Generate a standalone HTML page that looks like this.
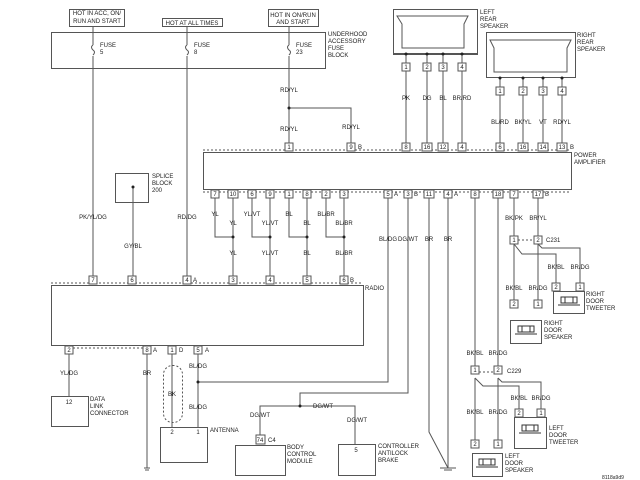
<!DOCTYPE html>
<html><head><meta charset="utf-8"><style>
html,body{margin:0;padding:0;background:#fff;}
svg{display:block;}
text{font-family:"Liberation Sans",sans-serif;font-size:6px;fill:#222;}
.c{text-anchor:middle;}
</style></head><body>
<svg width="640" height="480" viewBox="0 0 640 480" xmlns="http://www.w3.org/2000/svg">
<g stroke="#555" stroke-width="1" fill="none">
<!-- fuse block -->
<rect x="51.5" y="32.5" width="274" height="36"/>
<rect x="69.5" y="9.5" width="55" height="17"/>
<rect x="162.5" y="18.5" width="60" height="8"/>
<rect x="268.5" y="9.5" width="50" height="17"/>
<path d="M93 26V45M93 56V276M187 26V45M187 56V276M289 26V45M289 56V143"/>
<path d="M93 45q-3 2 0 5q3 2 0 5M187 45q-3 2 0 5q3 2 0 5M289 45q-3 2 0 5q3 2 0 5"/>
<path d="M289 108H351V143"/>
<!-- power amp -->
<rect x="203.5" y="152.5" width="368" height="37"/>
<path d="M203 150H571M203 192H571" stroke-dasharray="2,2"/>
<!-- left rear speaker -->
<rect x="393.5" y="9.5" width="84" height="45"/>
<path d="M397 16H468L464 24V48H402V24Z"/>
<path d="M393 54H477" stroke-width="2"/>
<path d="M406 54V143M427 54V143M443 54V143M462 54V143"/>
<!-- right rear speaker -->
<rect x="486.5" y="32.5" width="89" height="45"/>
<path d="M490 40H571L567 48V72H494V48Z"/>
<path d="M500 78V143M523 78V143M543 78V143M562 78V143"/>
<!-- amp bottom wires -->
<path d="M215 198V237H233M233 198V276M252 198V237H270M270 198V276M289 198V237H307M307 198V276M326 198V237H344M344 198V276"/>
<!-- radio -->
<rect x="51.5" y="285.5" width="312" height="60"/>
<path d="M51 283H363M69 348H147" stroke-dasharray="2,2"/>
<rect x="115.5" y="173.5" width="33" height="29"/>
<path d="M133 187V276"/>
<path d="M69 354V396M147 354V468M172 354V427M198 354V427"/>
<rect x="51.5" y="396.5" width="37" height="30"/>
<rect x="163.5" y="365.5" width="19" height="57" rx="9" stroke-dasharray="2,2"/>
<rect x="160.5" y="427.5" width="47" height="35"/>
<path d="M198 382H388V198M408 198V393H300V406M260 435V406H355V444"/>
<rect x="235.5" y="445.5" width="50" height="30"/>
<rect x="338.5" y="444.5" width="37" height="31"/>
<path d="M429 198V432L448 468M448 198V468"/>
<path d="M144 468H150M145 470H149M440 468H456M444 470H452"/>
<!-- right door -->
<path d="M514 198V236M538 198V236M514 244V300M538 244V300M514 244L522 254H556V283M538 244L542 248H580V283"/>
<path d="M514 240H538M475 372H498" stroke-dasharray="2,2"/>
<rect x="553.5" y="291.5" width="31" height="22"/>
<rect x="510.5" y="320.5" width="31" height="23"/>
<!-- left door -->
<path d="M475 198V366M498 198V366M475 378V440M498 378V440M475 378L483 386H519V415M498 378L502 382H541V415"/>
<rect x="514.5" y="417.5" width="32" height="31"/>
<rect x="472.5" y="453.5" width="30" height="23"/>
<!-- speaker icons -->
<g stroke="#333"><rect x="561" y="297" width="16" height="6"/><path d="M558 305H580M565 297V303M573 297V303"/>
<rect x="518" y="326" width="16" height="6"/><path d="M515 334H537M522 326V332M530 326V332"/>
<rect x="522" y="425" width="16" height="6"/><path d="M519 433H541M526 425V431M534 425V431"/>
<rect x="479" y="459" width="16" height="6"/><path d="M476 467H498M483 459V465M491 459V465"/></g>
</g>
<g fill="#222">
<circle cx="289" cy="108" r="1.5"/><circle cx="133" cy="187" r="1.5"/>
<circle cx="233" cy="237" r="1.5"/><circle cx="270" cy="237" r="1.5"/><circle cx="307" cy="237" r="1.5"/><circle cx="344" cy="237" r="1.5"/>
<circle cx="198" cy="382" r="1.5"/><circle cx="300" cy="406" r="1.5"/>
<circle cx="406" cy="54" r="1.5"/><circle cx="427" cy="54" r="1.5"/><circle cx="443" cy="54" r="1.5"/><circle cx="462" cy="54" r="1.5"/>
<circle cx="500" cy="78" r="1.5"/><circle cx="523" cy="78" r="1.5"/><circle cx="543" cy="78" r="1.5"/><circle cx="562" cy="78" r="1.5"/>
</g>
<!-- pin boxes -->
<g stroke="#555" fill="#fff">
<rect x="285" y="143" width="8" height="8"/><rect x="347" y="143" width="8" height="8"/>
<rect x="402" y="143" width="8" height="8"/><rect x="422" y="143" width="10" height="8"/><rect x="438" y="143" width="10" height="8"/><rect x="458" y="143" width="8" height="8"/>
<rect x="496" y="143" width="8" height="8"/><rect x="518" y="143" width="10" height="8"/><rect x="538" y="143" width="10" height="8"/><rect x="557" y="143" width="10" height="8"/>
<rect x="402" y="63" width="8" height="8"/><rect x="423" y="63" width="8" height="8"/><rect x="439" y="63" width="8" height="8"/><rect x="458" y="63" width="8" height="8"/>
<rect x="496" y="87" width="8" height="8"/><rect x="519" y="87" width="8" height="8"/><rect x="539" y="87" width="8" height="8"/><rect x="558" y="87" width="8" height="8"/>
<rect x="211" y="190" width="8" height="8"/><rect x="228" y="190" width="10" height="8"/><rect x="248" y="190" width="8" height="8"/><rect x="266" y="190" width="8" height="8"/>
<rect x="285" y="190" width="8" height="8"/><rect x="303" y="190" width="8" height="8"/><rect x="322" y="190" width="8" height="8"/><rect x="340" y="190" width="8" height="8"/>
<rect x="384" y="190" width="8" height="8"/><rect x="404" y="190" width="8" height="8"/><rect x="424" y="190" width="10" height="8"/><rect x="444" y="190" width="8" height="8"/>
<rect x="471" y="190" width="8" height="8"/><rect x="493" y="190" width="10" height="8"/><rect x="510" y="190" width="8" height="8"/><rect x="533" y="190" width="10" height="8"/>
<rect x="89" y="276" width="8" height="8"/><rect x="128" y="276" width="8" height="8"/><rect x="183" y="276" width="8" height="8"/><rect x="229" y="276" width="8" height="8"/>
<rect x="266" y="276" width="8" height="8"/><rect x="303" y="276" width="8" height="8"/><rect x="340" y="276" width="8" height="8"/>
<rect x="65" y="346" width="8" height="8"/><rect x="143" y="346" width="8" height="8"/><rect x="168" y="346" width="8" height="8"/><rect x="194" y="346" width="8" height="8"/>
<rect x="256" y="435" width="9" height="9"/>
<rect x="510" y="236" width="8" height="8"/><rect x="534" y="236" width="8" height="8"/>
<rect x="552" y="283" width="8" height="8"/><rect x="576" y="283" width="8" height="8"/>
<rect x="510" y="300" width="8" height="8"/><rect x="534" y="300" width="8" height="8"/>
<rect x="471" y="366" width="8" height="8"/><rect x="494" y="366" width="8" height="8"/>
<rect x="515" y="409" width="8" height="8"/><rect x="537" y="409" width="8" height="8"/>
<rect x="471" y="440" width="8" height="8"/><rect x="494" y="440" width="8" height="8"/>
</g>
<g class="c">
<text x="289" y="149" class="c">1</text><text x="351" y="149" class="c">9</text><text x="406" y="149" class="c">8</text><text x="427" y="149" class="c">16</text><text x="443" y="149" class="c">12</text><text x="462" y="149" class="c">4</text>
<text x="500" y="149" class="c">6</text><text x="523" y="149" class="c">16</text><text x="543" y="149" class="c">14</text><text x="562" y="149" class="c">13</text>
<text x="406" y="69" class="c">1</text><text x="427" y="69" class="c">2</text><text x="443" y="69" class="c">3</text><text x="462" y="69" class="c">4</text>
<text x="500" y="93" class="c">1</text><text x="523" y="93" class="c">2</text><text x="543" y="93" class="c">3</text><text x="562" y="93" class="c">4</text>
<text x="215" y="196" class="c">7</text><text x="233" y="196" class="c">10</text><text x="252" y="196" class="c">6</text><text x="270" y="196" class="c">9</text>
<text x="289" y="196" class="c">1</text><text x="307" y="196" class="c">8</text><text x="326" y="196" class="c">2</text><text x="344" y="196" class="c">3</text>
<text x="388" y="196" class="c">5</text><text x="408" y="196" class="c">3</text><text x="429" y="196" class="c">11</text><text x="448" y="196" class="c">4</text>
<text x="475" y="196" class="c">8</text><text x="498" y="196" class="c">18</text><text x="514" y="196" class="c">7</text><text x="538" y="196" class="c">17</text>
<text x="93" y="282" class="c">7</text><text x="132" y="282" class="c">6</text><text x="187" y="282" class="c">4</text><text x="233" y="282" class="c">3</text>
<text x="270" y="282" class="c">4</text><text x="307" y="282" class="c">5</text><text x="344" y="282" class="c">6</text>
<text x="69" y="352" class="c">2</text><text x="147" y="352" class="c">8</text><text x="172" y="352" class="c">1</text><text x="198" y="352" class="c">5</text>
<text x="260" y="442" class="c">74</text><text x="69" y="404" class="c">12</text><text x="356" y="452" class="c">5</text>
<text x="172" y="434" class="c">2</text><text x="198" y="434" class="c">1</text>
<text x="514" y="242" class="c">1</text><text x="538" y="242" class="c">2</text>
<text x="556" y="289" class="c">2</text><text x="580" y="289" class="c">1</text>
<text x="514" y="306" class="c">2</text><text x="538" y="306" class="c">1</text>
<text x="475" y="372" class="c">1</text><text x="498" y="372" class="c">2</text>
<text x="519" y="415" class="c">2</text><text x="541" y="415" class="c">1</text>
<text x="475" y="446" class="c">2</text><text x="498" y="446" class="c">1</text>
<!-- wire labels -->
<text x="289" y="92" class="c">RD/YL</text><text x="289" y="131" class="c">RD/YL</text><text x="351" y="129" class="c">RD/YL</text>
<text x="406" y="100" class="c">PK</text><text x="427" y="100" class="c">DG</text><text x="443" y="100" class="c">BL</text><text x="462" y="100" class="c">BR/RD</text>
<text x="500" y="124" class="c">BL/RD</text><text x="523" y="124" class="c">BK/YL</text><text x="543" y="124" class="c">VT</text><text x="562" y="124" class="c">RD/YL</text>
<text x="215" y="216" class="c">YL</text><text x="233" y="225" class="c">YL</text><text x="252" y="216" class="c">YL/VT</text><text x="270" y="225" class="c">YL/VT</text>
<text x="289" y="216" class="c">BL</text><text x="307" y="225" class="c">BL</text><text x="326" y="216" class="c">BL/BR</text><text x="344" y="225" class="c">BL/BR</text>
<text x="233" y="255" class="c">YL</text><text x="270" y="255" class="c">YL/VT</text><text x="307" y="255" class="c">BL</text><text x="344" y="255" class="c">BL/BR</text>
<text x="93" y="219" class="c">PK/YL/DG</text><text x="187" y="219" class="c">RD/DG</text><text x="133" y="248" class="c">GY/BL</text>
<text x="388" y="241" class="c">BL/DG</text><text x="408" y="241" class="c">DG/WT</text><text x="429" y="241" class="c">BR</text><text x="448" y="241" class="c">BR</text>
<text x="514" y="220" class="c">BK/PK</text><text x="538" y="220" class="c">BR/YL</text>
<text x="556" y="269" class="c">BK/BL</text><text x="580" y="269" class="c">BR/DG</text>
<text x="514" y="290" class="c">BK/BL</text><text x="538" y="290" class="c">BR/DG</text>
<text x="475" y="355" class="c">BK/BL</text><text x="498" y="355" class="c">BR/DG</text>
<text x="519" y="400" class="c">BK/BL</text><text x="541" y="400" class="c">BR/DG</text>
<text x="475" y="414" class="c">BK/BL</text><text x="498" y="414" class="c">BR/DG</text>
<text x="69" y="375" class="c">YL/DG</text><text x="147" y="375" class="c">BR</text><text x="172" y="396" class="c">BK</text>
<text x="198" y="368" class="c">BL/DG</text><text x="198" y="409" class="c">BL/DG</text>
<text x="260" y="417" class="c">DG/WT</text><text x="323" y="408" class="c">DG/WT</text><text x="357" y="422" class="c">DG/WT</text>
<text x="97" y="15" class="c">HOT IN ACC, ON/</text><text x="97" y="23" class="c">RUN AND START</text>
<text x="192" y="25" class="c">HOT AT ALL TIMES</text>
<text x="293" y="17" class="c">HOT IN ON/RUN</text><text x="293" y="24" class="c">AND START</text>
</g>
<g>
<text x="100" y="47">FUSE</text><text x="100" y="54">5</text>
<text x="194" y="47">FUSE</text><text x="194" y="54">8</text>
<text x="296" y="47">FUSE</text><text x="296" y="54">23</text>
<text x="328" y="36">UNDERHOOD</text><text x="328" y="43">ACCESSORY</text><text x="328" y="50">FUSE</text><text x="328" y="57">BLOCK</text>
<text x="480" y="14">LEFT</text><text x="480" y="21">REAR</text><text x="480" y="28">SPEAKER</text>
<text x="577" y="37">RIGHT</text><text x="577" y="44">REAR</text><text x="577" y="51">SPEAKER</text>
<text x="574" y="157">POWER</text><text x="574" y="164">AMPLIFIER</text>
<text x="358" y="149">B</text><text x="570" y="149">B</text>
<text x="394" y="196">A</text><text x="414" y="196">B</text><text x="454" y="196">A</text><text x="545" y="196">B</text>
<text x="193" y="282">A</text><text x="350" y="282">B</text>
<text x="153" y="352">A</text><text x="179" y="352">D</text><text x="205" y="352">A</text>
<text x="365" y="290">RADIO</text>
<text x="152" y="178">SPLICE</text><text x="152" y="185">BLOCK</text><text x="152" y="192">200</text>
<text x="90" y="401">DATA</text><text x="90" y="408">LINK</text><text x="90" y="415">CONNECTOR</text>
<text x="210" y="432">ANTENNA</text>
<text x="268" y="442">C4</text>
<text x="287" y="449">BODY</text><text x="287" y="456">CONTROL</text><text x="287" y="463">MODULE</text>
<text x="378" y="448">CONTROLLER</text><text x="378" y="455">ANTILOCK</text><text x="378" y="462">BRAKE</text>
<text x="546" y="242">C231</text><text x="507" y="373">C229</text>
<text x="586" y="296">RIGHT</text><text x="586" y="303">DOOR</text><text x="586" y="310">TWEETER</text>
<text x="544" y="325">RIGHT</text><text x="544" y="332">DOOR</text><text x="544" y="339">SPEAKER</text>
<text x="549" y="430">LEFT</text><text x="549" y="437">DOOR</text><text x="549" y="444">TWEETER</text>
<text x="505" y="458">LEFT</text><text x="505" y="465">DOOR</text><text x="505" y="472">SPEAKER</text>
<text x="602" y="479" style="font-size:5px">8118a9d9</text>
</g>
</svg>
</body></html>
